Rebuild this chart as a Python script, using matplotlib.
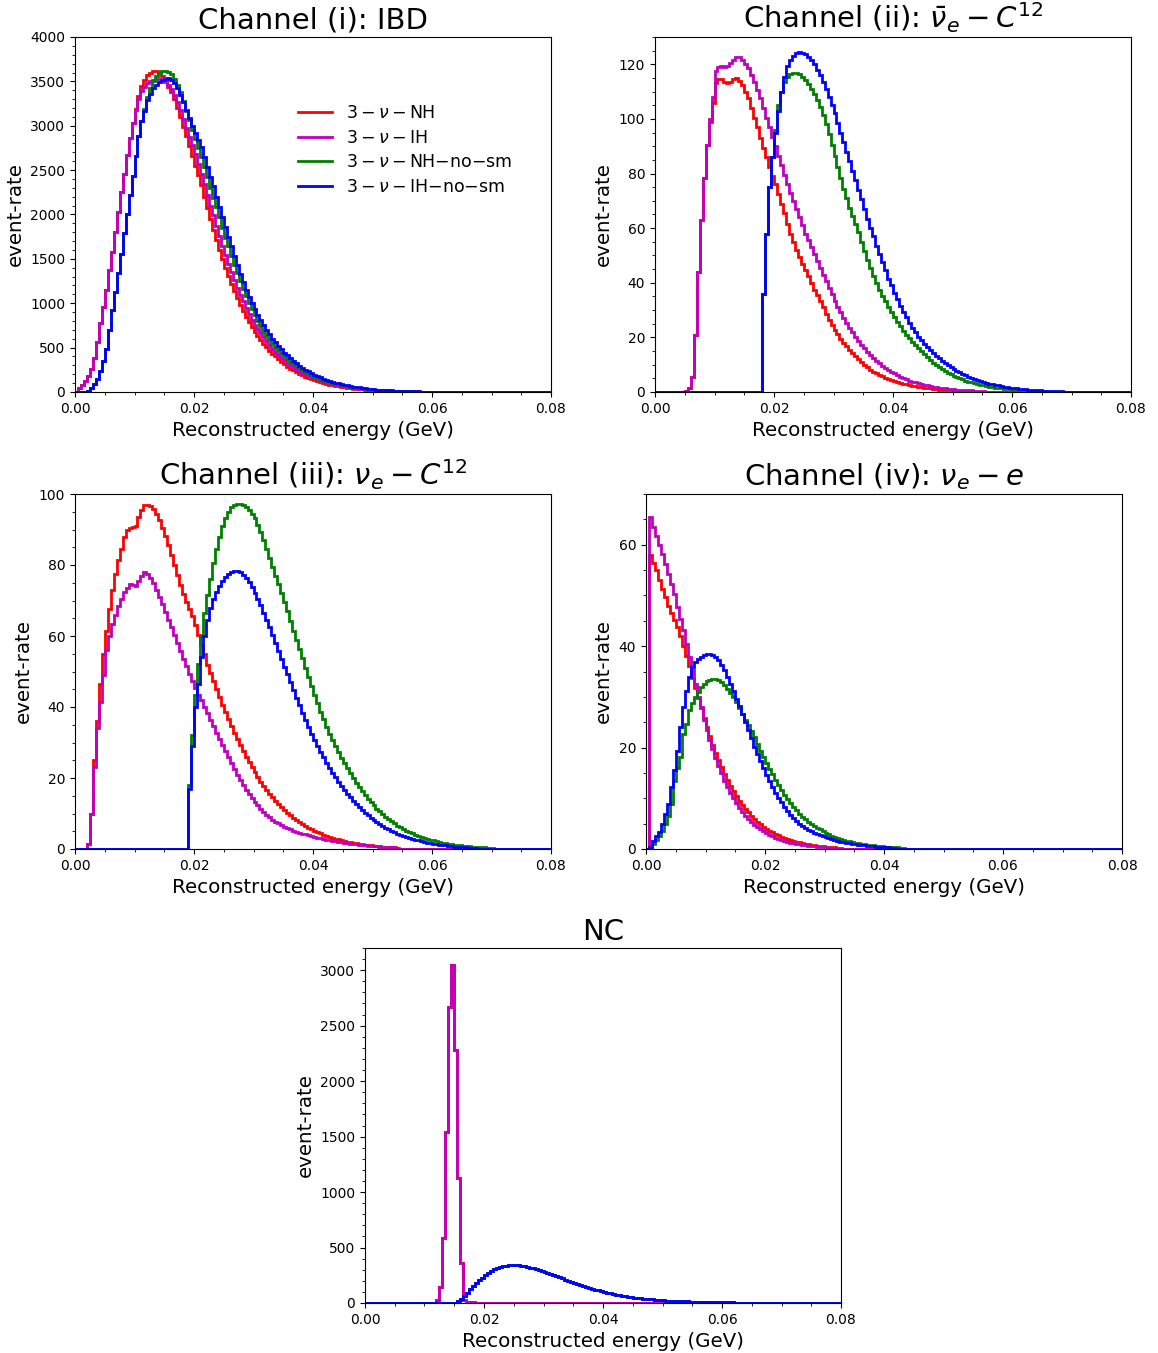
import numpy as np
import matplotlib
matplotlib.use('Agg')
import matplotlib.pyplot as plt

# --- DATA: event rate per 0.5 MeV bin (bins start at 0 GeV) ---
E_MAX = 0.08
N_BINS = 160

# Channel (i): IBD
IBD_NH = [5, 40, 80, 120, 180, 260, 380, 560, 780, 960,
          1150, 1370, 1580, 1800, 2030, 2250, 2460, 2670, 2860, 3030,
          3190, 3330, 3450, 3520, 3570, 3600, 3615, 3620, 3600, 3560,
          3500, 3440, 3380, 3300, 3200, 3100, 2990, 2880, 2770, 2660,
          2550, 2440, 2330, 2200, 2070, 1950, 1830, 1710, 1600, 1500,
          1400, 1310, 1220, 1140, 1060, 985, 915, 850, 785, 730,
          680, 635, 590, 545, 505, 467, 432, 400, 368, 340,
          312, 287, 264, 243, 222, 204, 187, 171, 157, 144,
          131, 120, 109, 100, 91, 83, 76, 69, 63, 57,
          52, 47, 43, 39, 35, 32, 29, 26, 23, 21,
          19, 17, 15, 13, 12, 11, 10, 9, 8, 7,
          6, 5, 5, 4, 4, 3, 3, 2, 2, 2, 1]
IBD_IH = [5, 40, 80, 120, 180, 260, 380, 560, 780, 960,
          1150, 1370, 1580, 1800, 2030, 2250, 2460, 2670, 2860, 3030,
          3180, 3300, 3390, 3440, 3480, 3505, 3520, 3530, 3525, 3515,
          3490, 3460, 3410, 3350, 3270, 3180, 3080, 2970, 2870, 2780,
          2680, 2570, 2460, 2340, 2220, 2100, 1990, 1870, 1760, 1650,
          1540, 1440, 1350, 1260, 1170, 1090, 1020, 950, 880, 815,
          760, 705, 660, 615, 570, 525, 490, 455, 420, 385,
          355, 328, 302, 280, 258, 237, 218, 200, 184, 169,
          155, 142, 130, 119, 108, 99, 90, 82, 75, 68,
          62, 56, 51, 46, 42, 38, 34, 31, 28, 25,
          22, 20, 18, 16, 14, 13, 11, 10, 9, 8,
          7, 6, 5, 5, 4, 4, 3, 3, 2, 2, 1]
IBD_NH_NOSM = [0, 0, 0, 0, 15, 45, 90, 150, 240, 350,
               490, 700, 920, 1130, 1340, 1560, 1790, 2000, 2220, 2430,
               2660, 2880, 3050, 3190, 3320, 3420, 3500, 3560, 3595, 3615,
               3620, 3610, 3580, 3530, 3460, 3380, 3280, 3170, 3060, 2950,
               2850, 2750, 2650, 2530, 2420, 2300, 2190, 2080, 1970, 1850,
               1740, 1640, 1530, 1430, 1340, 1250, 1160, 1080, 1000, 930,
               865, 805, 745, 690, 640, 595, 550, 510, 470, 435,
               400, 370, 340, 313, 288, 265, 244, 224, 206, 190,
               174, 160, 147, 134, 123, 113, 103, 94, 86, 79,
               72, 66, 60, 55, 50, 45, 41, 37, 34, 31,
               28, 25, 23, 21, 19, 17, 15, 14, 12, 11,
               10, 9, 8, 7, 6, 5, 5, 4, 4, 3, 3, 2, 2, 2, 1]
IBD_IH_NOSM = [0, 0, 0, 0, 15, 45, 90, 150, 240, 350,
               490, 700, 920, 1130, 1340, 1560, 1790, 2000, 2220, 2430,
               2660, 2880, 3050, 3170, 3290, 3360, 3420, 3460, 3495, 3515,
               3530, 3535, 3515, 3480, 3420, 3350, 3270, 3180, 3090, 3000,
               2920, 2840, 2760, 2650, 2540, 2420, 2320, 2200, 2090, 1970,
               1860, 1750, 1640, 1530, 1430, 1330, 1240, 1150, 1070, 1000,
               935, 870, 810, 755, 700, 650, 600, 560, 520, 480,
               445, 412, 380, 350, 322, 297, 274, 252, 232, 214,
               197, 181, 166, 152, 139, 127, 116, 106, 97, 89,
               81, 74, 67, 61, 56, 51, 46, 42, 38, 34,
               31, 28, 25, 23, 21, 19, 17, 15, 14, 12,
               11, 10, 9, 8, 7, 6, 5, 5, 4, 4, 3, 3, 2, 2, 2, 1]

# Channel (ii): anti-nu_e - C12
NUBAR_C12_NH = [0, 0, 0, 0, 0, 0, 0, 0, 0, 0,
                0.5, 1.5, 5.5, 21, 44, 63, 78.5, 90.5, 99, 106,
                113, 114.5, 114.5, 113.5, 113, 113.5, 114.5, 115, 114, 112.5,
                110, 107.5, 104, 100.5, 97, 93, 89.5, 86, 82.5, 79,
                76, 72.5, 69, 65.5, 61.5, 58, 55, 52, 49.5, 47,
                44.5, 42.5, 40, 37.5, 35.5, 33.3, 31, 28.5, 26.5, 24.5,
                22.8, 21.2, 19.5, 18, 16.7, 15.5, 14.2, 13, 12, 11,
                10, 9.1, 8.2, 7.5, 6.9, 6.3, 5.7, 5.2, 4.7, 4.3,
                3.9, 3.6, 3.3, 3, 2.8, 2.5, 2.3, 2.1, 1.9, 1.7,
                1.5, 1.4, 1.3, 1.1, 1, 0.9, 0.8, 0.7, 0.65, 0.6,
                0.5, 0.45, 0.4]
NUBAR_C12_IH = [0, 0, 0, 0, 0, 0, 0, 0, 0, 0,
                0.5, 1.5, 5.5, 21, 44, 63, 78.5, 90.5, 100, 108,
                117.5, 119, 119.5, 119, 119.5, 120.5, 121.5, 122.5, 122.5, 121.5,
                120, 118.5, 116, 113.5, 110.5, 107.5, 104, 100.5, 97, 93.5,
                90, 86.5, 83, 79.5, 76, 73, 70, 67, 64, 61,
                58, 55.5, 53, 50.5, 48, 45.5, 43, 40.5, 38, 36,
                33.5, 31.3, 29.2, 27.2, 25.3, 23.5, 21.8, 20.2, 18.7, 17.3,
                16, 14.8, 13.6, 12.5, 11.5, 10.6, 9.7, 8.9, 8.1, 7.4,
                6.8, 6.2, 5.6, 5.1, 4.6, 4.2, 3.8, 3.5, 3.2, 2.9,
                2.6, 2.4, 2.2, 2, 1.8, 1.6, 1.5, 1.3, 1.2, 1.1,
                1.0, 0.9, 0.8, 0.7, 0.65, 0.6, 0.55, 0.5, 0.45, 0.4, 0.35]
NUBAR_C12_NH_NOSM = [0, 0, 0, 0, 0, 0, 0, 0, 0, 0, 0, 0, 0, 0, 0, 0, 0, 0,
                     0, 0, 0, 0, 0, 0, 0, 0, 0, 0, 0, 0, 0, 0, 0, 0, 0, 0,
                     36, 58, 75, 86, 96, 105, 110, 113.5, 115.5, 116.5,
                     117, 117, 116.5, 115.5, 114.3, 112.8, 111, 109, 106.8, 104.5,
                     101.5, 98, 94.5, 90.5, 86.5, 82.5, 78.5, 74.5, 71, 67.5,
                     64.5, 61.5, 58.5, 55, 51.5, 48.5, 45.5, 42.5, 40, 37.5,
                     35.3, 33.3, 31.3, 29.4, 27.3, 25.6, 24, 22.5, 21, 19.7,
                     18.4, 17.2, 16, 14.9, 13.8, 12.7, 11.7, 10.8, 9.9, 9.1,
                     8.4, 7.7, 7.1, 6.5, 6, 5.5, 5, 4.6, 4.2, 3.8,
                     3.5, 3.2, 2.9, 2.6, 2.4, 2.2, 2, 1.8, 1.6, 1.45,
                     1.3, 1.2, 1.1, 1.0, 0.9, 0.8, 0.7, 0.6, 0.55, 0.5,
                     0.45, 0.4, 0.35, 0.3, 0.25]
NUBAR_C12_IH_NOSM = [0, 0, 0, 0, 0, 0, 0, 0, 0, 0, 0, 0, 0, 0, 0, 0, 0, 0,
                     0, 0, 0, 0, 0, 0, 0, 0, 0, 0, 0, 0, 0, 0, 0, 0, 0, 0,
                     36, 58, 75, 86, 95, 103, 110, 115.5, 119.5, 121.5,
                     123, 124, 124.5, 124.3, 123.8, 122.8, 121.5, 120, 118, 116,
                     113.5, 111, 108, 105, 102, 98.5, 95, 91.5, 88, 84.5,
                     81, 77.5, 74, 70.5, 67, 63.5, 60, 57, 53.5, 50.5,
                     47.5, 44.5, 41.5, 39, 36.3, 34, 31.5, 29.4, 27.3, 25.3,
                     23.4, 21.8, 20.3, 18.9, 17.6, 16.4, 15.3, 14.2, 13.2, 12.3,
                     11.4, 10.6, 9.8, 9.1, 8.4, 7.8, 7.2, 6.6, 6.1, 5.6,
                     5.2, 4.8, 4.4, 4.0, 3.7, 3.4, 3.1, 2.8, 2.6, 2.4,
                     2.2, 2.0, 1.8, 1.6, 1.5, 1.35, 1.2, 1.1, 1.0, 0.9,
                     0.8, 0.7, 0.6, 0.55, 0.5, 0.45, 0.4, 0.35, 0.3, 0.25, 0.2]

# Channel (iii): nu_e - C12
NUE_C12_NH = [0, 0, 0, 0,
              1.5, 10, 25, 36, 46.5, 55, 61.5, 67.5, 73, 77.5,
              81.5, 84.5, 88, 90, 90.5, 90.8, 91, 93.5, 95.5, 96.8,
              97, 96.6, 95.8, 94.5, 92.8, 90.5, 88.3, 85.5, 82.8, 80,
              77.3, 74.5, 71.8, 69.5, 67.5, 65.5, 63, 60.3, 57.5, 55,
              51.8, 49.5, 47.2, 45, 42.8, 40.7, 38.6, 36.6, 34.7, 32.8,
              31, 29.3, 27.6, 26, 24.5, 23, 21.6, 20.3, 19, 17.8,
              16.7, 15.6, 14.6, 13.6, 12.7, 11.8, 11, 10.2, 9.5, 8.8,
              8.2, 7.6, 7, 6.5, 6, 5.6, 5.1, 4.7, 4.4, 4,
              3.7, 3.4, 3.2, 2.9, 2.7, 2.5, 2.3, 2.1, 1.9, 1.7,
              1.6, 1.5, 1.3, 1.2, 1.1, 1.0, 0.9, 0.8, 0.75, 0.7,
              0.6, 0.55, 0.5, 0.45, 0.4]
NUE_C12_IH = [0, 0, 0, 0,
              1.5, 10, 23, 34, 41.5, 49, 56, 60, 63.5, 66,
              68.5, 70.5, 72.3, 73.6, 74.6, 74.3, 74, 75.5, 77, 78,
              77.5, 76.3, 74.8, 73, 71, 69, 66.8, 64.6, 62.4, 60.2,
              58, 55.8, 53.6, 51.5, 49.4, 47.4, 45.4, 43.5, 42, 40,
              38.2, 36.4, 34.6, 32.8, 31, 29.2, 27.5, 25.8, 24.1, 22.5,
              20.9, 19.4, 18, 16.7, 15.5, 14.4, 13.3, 12.3, 11.4, 10.5,
              9.7, 9, 8.3, 7.7, 7.2, 6.7, 6.3, 5.9, 5.5, 5.2,
              4.9, 4.6, 4.3, 4.1, 3.9, 3.6, 3.4, 3.2, 3, 2.8,
              2.6, 2.45, 2.3, 2.15, 2, 1.85, 1.7, 1.6, 1.5, 1.4,
              1.3, 1.2, 1.1, 1, 0.95, 0.9, 0.8, 0.75, 0.7, 0.65,
              0.6, 0.55, 0.5]
NUE_C12_NH_NOSM = [0, 0, 0, 0, 0, 0, 0, 0, 0, 0, 0, 0, 0, 0, 0, 0, 0, 0, 0,
                   0, 0, 0, 0, 0, 0, 0, 0, 0, 0, 0, 0, 0, 0, 0, 0, 0, 0, 0,
                   18, 32, 43.5, 52, 60, 66.5, 71.5, 76, 80.5, 84.5,
                   88, 91, 93.3, 95, 96.2, 96.9, 97.2, 97.2, 96.8, 96.2,
                   95.4, 94.4, 93.2, 91.2, 89.2, 87, 84.5, 82, 79.5, 77,
                   74.6, 72, 69.5, 67, 64.3, 61.5, 59, 56.3, 53.7, 51,
                   48.5, 46, 43.5, 41, 38.6, 36.5, 34.3, 32.5, 30.7, 29,
                   27.3, 25.7, 24.2, 22.7, 21.3, 20, 18.7, 17.5, 16.3, 15.2,
                   14.2, 13.2, 12.3, 11.4, 10.6, 9.8, 9.1, 8.4, 7.8, 7.2,
                   6.6, 6.1, 5.6, 5.2, 4.8, 4.4, 4, 3.7, 3.4, 3.1,
                   2.85, 2.6, 2.4, 2.2, 2, 1.8, 1.65, 1.5, 1.35, 1.2,
                   1.1, 1, 0.9, 0.8, 0.75, 0.7, 0.6, 0.55, 0.5, 0.45,
                   0.4, 0.35, 0.3]
NUE_C12_IH_NOSM = [0, 0, 0, 0, 0, 0, 0, 0, 0, 0, 0, 0, 0, 0, 0, 0, 0, 0, 0,
                   0, 0, 0, 0, 0, 0, 0, 0, 0, 0, 0, 0, 0, 0, 0, 0, 0, 0, 0,
                   17, 29, 40, 46.5, 54, 60, 64.5, 68, 70.5, 72.5,
                   74.2, 75.5, 76.6, 77.4, 78, 78.2, 78.2, 77.9, 77.3, 76.3,
                   75.1, 73.7, 72.1, 70.4, 68.6, 66.6, 64.5, 62.4, 60.2, 58,
                   55.8, 53.6, 51.4, 49.2, 47, 44.8, 42.6, 40.5, 38.4, 36.3,
                   34.3, 32.4, 30.6, 28.9, 27.3, 25.8, 24.3, 22.9, 21.5, 20.2,
                   19, 17.8, 16.7, 15.6, 14.6, 13.6, 12.7, 11.8, 11, 10.2,
                   9.5, 8.8, 8.2, 7.6, 7, 6.5, 6, 5.5, 5.1, 4.7,
                   4.3, 4, 3.7, 3.4, 3.1, 2.85, 2.6, 2.4, 2.2, 2,
                   1.8, 1.65, 1.5, 1.35, 1.2, 1.1, 1, 0.9, 0.8, 0.7,
                   0.65, 0.6, 0.5, 0.45, 0.4, 0.35, 0.3]

# Channel (iv): nu_e - e
NUE_E_NH = [0, 58, 56.3, 55, 53, 51.2, 49.6, 48, 46.5, 45.2,
            43.7, 42, 40, 38, 36, 33.8, 31.7, 29.8, 27.9, 25.9,
            24, 22.2, 20.5, 19, 17.5, 16.1, 14.8, 13.6, 12.4, 11.4,
            10.4, 9.5, 8.7, 7.9, 7.2, 6.5, 5.9, 5.4, 4.9, 4.4,
            4, 3.6, 3.3, 3, 2.7, 2.4, 2.2, 2, 1.8, 1.6,
            1.45, 1.3, 1.15, 1, 0.9, 0.8, 0.7, 0.65, 0.6, 0.5,
            0.45, 0.4, 0.35, 0.3, 0.25, 0.2]
NUE_E_IH = [0, 65.5, 63.5, 61.8, 60, 58.2, 56.2, 54.3, 52.3, 50.3,
            47.7, 45.4, 43.1, 40.5, 37.8, 35.2, 32.6, 30, 28, 25.4,
            23.4, 21.5, 19.8, 18, 16.4, 14.9, 13.5, 12.3, 11.1, 10,
            9, 8.1, 7.3, 6.6, 5.9, 5.3, 4.8, 4.3, 3.9, 3.5,
            3.1, 2.8, 2.5, 2.2, 2, 1.8, 1.6, 1.4, 1.25, 1.1,
            1, 0.9, 0.8, 0.7, 0.6, 0.55, 0.5, 0.45, 0.4, 0.35,
            0.3, 0.25, 0.2]
NUE_E_NH_NOSM = [0, 0.2, 1, 1.8, 2.6, 3.5, 4.9, 6.5, 8.8, 13.5,
                 16, 18.1, 22.7, 24.7, 27.4, 28.7, 30, 30.9, 31.9, 32.6,
                 33.2, 33.4, 33.5, 33.5, 33.3, 32.9, 32.3, 31.6, 30.8, 29.9,
                 28.9, 27.8, 26.7, 25.5, 24.5, 23.3, 22, 20.7, 19.4, 18.2,
                 17, 15.8, 14.7, 13.6, 12.6, 11.6, 10.7, 9.8, 9, 8.3,
                 7.6, 7, 6.4, 5.9, 5.4, 5, 4.6, 4.2, 3.85, 3.5,
                 3.2, 2.9, 2.65, 2.4, 2.2, 2, 1.8, 1.65, 1.5, 1.35,
                 1.2, 1.1, 1, 0.9, 0.8, 0.75, 0.7, 0.6, 0.55, 0.5,
                 0.45, 0.4, 0.35, 0.3, 0.3, 0.25, 0.2]
NUE_E_IH_NOSM = [0, 0.3, 1.6, 2.5, 3.3, 4.9, 6.9, 8.8, 12.2, 15.5,
                 19.4, 24, 28, 31.2, 33.9, 35.9, 36.8, 37.5, 37.9, 38.2,
                 38.4, 38.5, 38.3, 37.8, 37.2, 36.3, 35.2, 34, 32.6, 31.1,
                 29.6, 28.1, 26.6, 25, 23.4, 21.8, 20.2, 18.7, 17.3, 15.9,
                 14.6, 13.4, 12.2, 11.1, 10.1, 9.2, 8.3, 7.5, 6.8, 6.1,
                 5.5, 5, 4.5, 4.1, 3.8, 3.5, 3.2, 2.95, 2.7, 2.5,
                 2.3, 2.1, 1.9, 1.75, 1.6, 1.45, 1.3, 1.2, 1.1, 1,
                 0.9, 0.8, 0.75, 0.7, 0.6, 0.55, 0.5, 0.45, 0.4, 0.35,
                 0.3, 0.3, 0.25, 0.2]

# NC: smeared (NH = IH) and unsmeared (NH-no-sm = IH-no-sm)
NC_SM = [0, 0, 0, 0, 0, 0, 0, 0, 0, 0, 0, 0, 0, 0, 0, 0, 0, 0, 0, 0, 0, 0, 0, 0,
         27, 147, 583, 1543, 2670, 3045, 2279, 1123, 357, 27, 12, 10, 8]
NC_NOSM = [0, 0, 0, 0, 0, 0, 0, 0, 0, 0, 0, 0, 0, 0, 0,
           0, 0, 0, 0, 0, 0, 0, 0, 0, 0, 0, 0, 0, 0, 0,
           3, 15, 35, 62, 92, 122, 152, 180, 205, 228,
           250, 270, 288, 303, 316, 326, 333, 338, 341, 342,
           342, 340, 336, 331, 325, 319, 312, 305, 297, 289,
           280, 271, 261, 251, 241, 231, 221, 211, 200, 190,
           180, 171, 162, 153, 144, 136, 128, 120, 113, 106,
           99, 92.5, 86.5, 81, 75.5, 70.5, 65.5, 61, 57, 53,
           49.5, 46, 42.5, 39.5, 36.8, 34.2, 31.8, 29.6, 27.6, 25.8,
           24, 22.4, 20.9, 19.5, 18.2, 17, 15.9, 14.8, 13.8, 12.9,
           12, 11.2, 10.4, 9.7, 9, 8.4, 7.8, 7.3, 6.8, 6.3,
           5.9, 5.5, 5.1, 4.7, 4.4, 4.1, 3.8, 3.5, 3.3, 3.1,
           2.9, 2.7, 2.5, 2.3, 2.1, 2, 1.85, 1.7, 1.6, 1.5,
           1.4, 1.3, 1.2, 1.1, 1, 0.95, 0.9, 0.85, 0.8, 0.75,
           0.7, 0.65, 0.6, 0.55, 0.5, 0.5, 0.45, 0.45, 0.4, 0.4]

LABELS = [r'$3-\nu-$NH', r'$3-\nu-$IH', r'$3-\nu-$NH$-$no$-$sm', r'$3-\nu-$IH$-$no$-$sm']
COLORS = ['r', 'm', 'g', 'b']


def padded(vals):
    arr = np.zeros(N_BINS)
    arr[:len(vals)] = vals
    return arr


edges = np.linspace(0, E_MAX, N_BINS + 1)

panels = [
    ("Channel (i): IBD", [IBD_NH, IBD_IH, IBD_NH_NOSM, IBD_IH_NOSM], 4000, 500, (75, 37)),
    (r"Channel (ii): $\bar{\nu}_e - C^{12}$",
     [NUBAR_C12_NH, NUBAR_C12_IH, NUBAR_C12_NH_NOSM, NUBAR_C12_IH_NOSM], 130, 20, (655, 37)),
    (r"Channel (iii): $\nu_e - C^{12}$",
     [NUE_C12_NH, NUE_C12_IH, NUE_C12_NH_NOSM, NUE_C12_IH_NOSM], 100, 20, (75, 494)),
    (r"Channel (iv): $\nu_e - e$",
     [NUE_E_NH, NUE_E_IH, NUE_E_NH_NOSM, NUE_E_IH_NOSM], 70, 20, (646, 494)),
    ("NC", [NC_SM, NC_SM, NC_NOSM, NC_NOSM], 3200, 500, (365, 948)),
]

W, H = 1158, 1353
AX_W, AX_H = 476, 355

fig = plt.figure(figsize=(W / 100, H / 100), dpi=100)

for i, (title, series, ymax, ystep, (x0, y0)) in enumerate(panels):
    ax = fig.add_axes([x0 / W, (H - y0 - AX_H) / H, AX_W / W, AX_H / H])
    for vals, c, lab in zip(series, COLORS, LABELS):
        ax.stairs(padded(vals), edges, color=c, lw=2, label=lab)
    ax.set_xlim(0, E_MAX)
    ax.set_ylim(0, ymax)
    ax.set_xticks(np.arange(0, E_MAX + 1e-9, 0.02))
    ax.set_yticks(np.arange(0, ymax + 1e-9, ystep))
    ax.minorticks_on()
    ax.set_title(title, fontsize=21)
    ax.set_xlabel("Reconstructed energy (GeV)", fontsize=14.3)
    ax.set_ylabel("event-rate", fontsize=14.3)
    if i == 0:
        ax.legend(frameon=False, fontsize=12.5, loc='upper left',
                  bbox_to_anchor=(0.435, 0.855), handlelength=2.0,
                  labelspacing=0.38)

plt.savefig('out.png', dpi=100)
